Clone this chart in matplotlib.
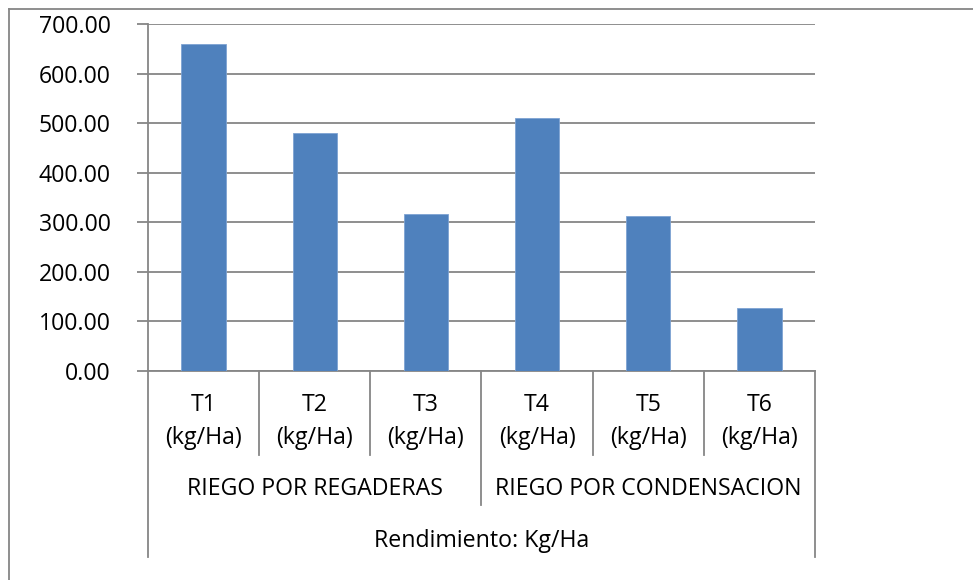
import matplotlib
matplotlib.use("Agg")
import matplotlib.pyplot as plt
from matplotlib.lines import Line2D
from matplotlib.transforms import blended_transform_factory

categories = ["T1\n(kg/Ha)", "T2\n(kg/Ha)", "T3\n(kg/Ha)",
              "T4\n(kg/Ha)", "T5\n(kg/Ha)", "T6\n(kg/Ha)"]
values = [660.0, 480.0, 317.0, 511.0, 313.0, 128.0]
groups = ["RIEGO POR REGADERAS", "RIEGO POR CONDENSACION"]
group_sizes = [3, 3]
axis_title = "Rendimiento: Kg/Ha"
yticks = [0, 100, 200, 300, 400, 500, 600, 700]

W, H = 973, 580
FONT = "Open Sans"
FS = 16.7
GRAY = "#868686"
BAR = "#4F81BD"

fig = plt.figure(figsize=(W / 100, H / 100), dpi=100)
fig.patch.set_facecolor("white")

def fy(px):
    return (H - px) / H

def fx(px):
    return px / W

left, right, top, bottom = 148, 815, 24.3, 371
ax = fig.add_axes([fx(left), fy(bottom), (right - left) / W, (bottom - top) / H])
x = list(range(len(values)))
ax.bar(x, values, width=0.4, color=BAR, edgecolor="#7EA3D3", linewidth=0.6, zorder=3)
ax.set_xlim(-0.5, len(values) - 0.5)
ax.set_ylim(0, 700)
ax.set_yticks(yticks)
ax.set_yticklabels([f"{v:.2f}" for v in yticks], fontfamily=FONT, fontsize=FS)
ax.tick_params(axis="y", direction="out", length=8, width=1.3, color=GRAY, pad=19)
ax.set_xticks([])
ax.grid(axis="y", color=GRAY, linewidth=1.3, zorder=0)
for s in ["top", "right"]:
    ax.spines[s].set_visible(False)
ax.spines["left"].set_color(GRAY)
ax.spines["left"].set_linewidth(1.3)
ax.spines["bottom"].set_color(GRAY)
ax.spines["bottom"].set_linewidth(1.3)

tr = blended_transform_factory(ax.transData, fig.transFigure)

def vline(xd, y1, y2):
    ax.add_line(Line2D([xd, xd], [fy(y1), fy(y2)], transform=tr, color=GRAY,
                       linewidth=1.3, clip_on=False))

n = len(values)
bounds = [0]
for g in group_sizes:
    bounds.append(bounds[-1] + g)
for i in range(1, n):
    if i in bounds:
        vline(i - 0.5, bottom, 505)
    else:
        vline(i - 0.5, bottom, 455)
vline(-0.5, bottom, 557)
vline(n - 0.5, bottom, 557)

for i, lab in enumerate(categories):
    l1, l2 = lab.split("\n")
    ax.text(i, fy(405), l1, transform=tr, ha="center", va="center",
            fontfamily=FONT, fontsize=FS)
    ax.text(i, fy(438), l2, transform=tr, ha="center", va="center",
            fontfamily=FONT, fontsize=FS)

for gi, g in enumerate(groups):
    c = (bounds[gi] + bounds[gi + 1] - 1) / 2
    ax.text(c, fy(489), g, transform=tr, ha="center", va="center",
            fontfamily=FONT, fontsize=FS)

ax.text((n - 1) / 2, fy(541), axis_title, transform=tr, ha="center", va="center",
        fontfamily=FONT, fontsize=FS)

fig.add_artist(Line2D([fx(8.5), fx(8.5)], [fy(8.5), 0], transform=fig.transFigure,
                      color=GRAY, linewidth=1.3))
fig.add_artist(Line2D([fx(8.5), 1], [fy(8.5), fy(8.5)], transform=fig.transFigure,
                      color=GRAY, linewidth=1.3))

fig.savefig("out.png", dpi=100, facecolor="white")
